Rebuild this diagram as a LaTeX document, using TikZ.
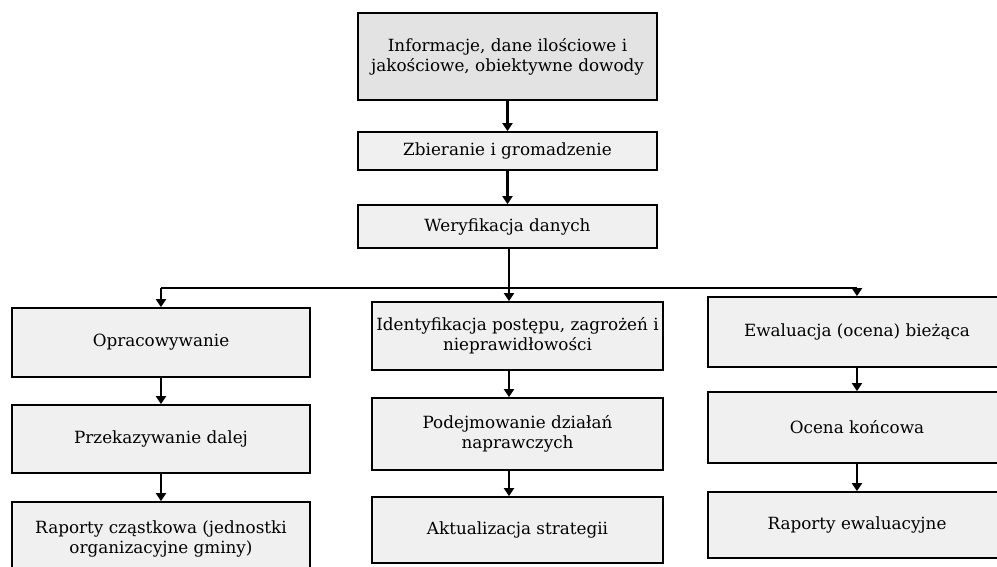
\documentclass[tikz,border=0pt]{standalone}
\usepackage{fontspec}
\setmainfont{DejaVu Serif}
\usetikzlibrary{arrows.meta}

\begin{document}
\begin{tikzpicture}[x=1pt,y=-1pt,
   box/.style={draw=black,line width=1.8pt,fill=gray!12,inner sep=1pt,align=center,
     font=\fontsize{16.8}{20}\selectfont},
   arr/.style={line width=2.4pt,-{Triangle[length=8pt,width=10pt]}}]
   \clip (0,0) rectangle (997,566);
   \fill[white] (0,0) rectangle (997,566);
   % upper chain
   \node[box,fill=gray!22,minimum width=299pt,minimum height=87pt] (info) at (507.5,56.5)
      {Informacje, dane ilościowe i\\jakościowe, obiektywne dowody};
   \node[box,minimum width=299pt,minimum height=38pt] (zbier) at (507.5,151) {Zbieranie i gromadzenie};
   \node[box,minimum width=299pt,minimum height=43pt] (weryf) at (507.5,226.5) {Weryfikacja danych};
   \draw[arr] (info) -- (zbier);
   \draw[arr] (zbier) -- (weryf);

   % left column
   \node[box,minimum width=298pt,minimum height=69pt] (opr) at (161,342.5) {Opracowywanie};
   \node[box,minimum width=298pt,minimum height=68pt] (przek) at (161,439) {Przekazywanie dalej};
   \node[box,minimum width=298pt,minimum height=74pt] (rapcz) at (161,539)
      {Raporty cząstkowa (jednostki\\organizacyjne gminy)};
   % middle column
   \node[box,minimum width=291pt,minimum height=68pt] (ident) at (517.5,336)
      {Identyfikacja postępu, zagrożeń i\\nieprawidłowości};
   \node[box,minimum width=291pt,minimum height=72pt] (podej) at (517.5,434)
      {Podejmowanie działań\\naprawczych};
   \node[box,minimum width=291pt,minimum height=66pt] (aktual) at (517.5,530) {Aktualizacja strategii};
   % right column
   \node[box,minimum width=298pt,minimum height=70pt] (ewal) at (857,332) {Ewaluacja (ocena) bieżąca};
   \node[box,minimum width=298pt,minimum height=71pt] (ocena) at (857,427.5) {Ocena końcowa};
   \node[box,minimum width=298pt,minimum height=66pt] (rapew) at (857,525) {Raporty ewaluacyjne};

   % branching
   \coordinate (split) at (509,288);
   \draw[line width=2.4pt] (weryf.south -| split) -- (split);
   \draw[line width=1.8pt] (opr.north |- split) -- (ewal.north |- split);
   \draw[arr] (opr.north |- split) -- (opr);
   \draw[arr] (split) -- (ident.north -| split);
   \draw[arr] (ewal.north |- split) -- (ewal);

   \draw[arr] (opr) -- (przek);
   \draw[arr] (przek) -- (rapcz);
   \draw[arr] (ident.south -| split) -- (podej.north -| split);
   \draw[arr] (podej.south -| split) -- (aktual.north -| split);
   \draw[arr] (ewal) -- (ocena);
   \draw[arr] (ocena) -- (rapew);
\end{tikzpicture}
\end{document}
